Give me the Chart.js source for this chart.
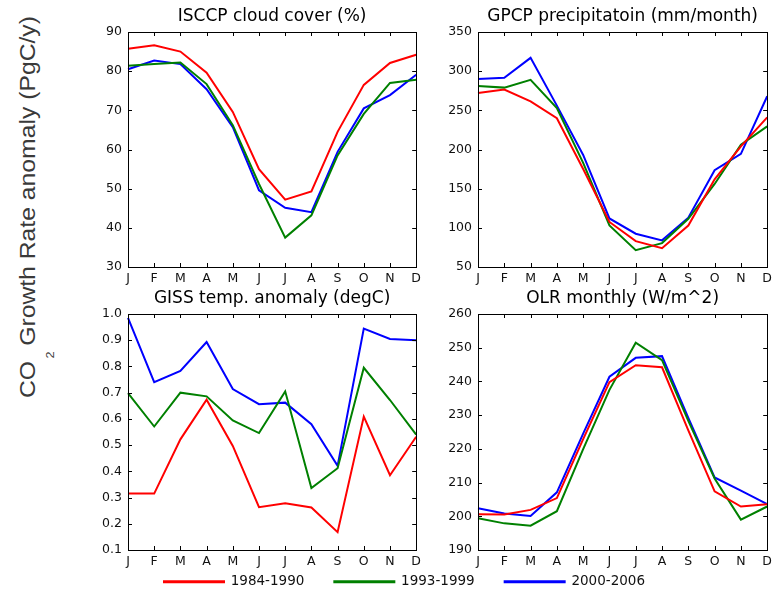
<!DOCTYPE html>
<html lang="en">
<head>
    <meta charset="UTF-8">
    <title>CO2 growth rate seasonal panels</title>
    <style>
        body {
            margin: 0;
            width: 776px;
            height: 589px;
            background-color: #ffffff;
            position: relative;
            overflow: hidden;
        }
        canvas {
            position: absolute;
        }
        .ylabel {
            position: absolute;
            left: 16px;
            top: 398px;
            transform-origin: 0 0;
            transform: rotate(-90deg) scale(1.15, 1);
            white-space: nowrap;
            font-family: "Liberation Sans", Arial, sans-serif;
            font-size: 21.5px;
            line-height: 24px;
            color: #3a3a3a;
        }
        .ylabel .sub {
            font-size: 11px;
            position: relative;
            top: 19px;
            margin: 0 5px 0 2px;
        }
    </style>
</head>
<body>
    <div class="ylabel">CO<span class="sub">2</span>Growth Rate anomaly (PgC/y)</div>

    <canvas id="cloud" width="347" height="297" style="left:78px; top:0px;"></canvas>
    <canvas id="precip" width="348" height="297" style="left:428px; top:0px;"></canvas>
    <canvas id="giss" width="347" height="298" style="left:78px; top:282px;"></canvas>
    <canvas id="olr" width="348" height="298" style="left:428px; top:282px;"></canvas>
    <canvas id="legend" width="743" height="110" style="left:33px; top:545px;"></canvas>

    <script src="https://cdn.jsdelivr.net/npm/chart.js"></script>
    <script>
        const months = ['J', 'F', 'M', 'A', 'M', 'J', 'J', 'A', 'S', 'O', 'N', 'D'];
        const periods = ['1984-1990', '1993-1999', '2000-2006'];
        const colors = ['#ff0000', '#008000', '#0000ff'];

        // ISCCP cloud cover (%)
        const cloud84 = [85.7, 86.6, 85.0, 79.6, 69.6, 55.0, 47.2, 49.3, 64.5, 76.5, 82.1, 84.2];
        const cloud93 = [81.4, 81.8, 82.2, 76.7, 66.2, 51.2, 37.5, 43.2, 58.5, 69.1, 77.0, 77.8];
        const cloud00 = [80.5, 82.7, 81.8, 75.4, 65.7, 49.6, 45.1, 44.0, 59.4, 70.5, 73.9, 79.1];

        // GPCP precipitation (mm/month)
        const precip84 = [272, 276.5, 261.5, 240, 175, 107.5, 83, 74, 103, 162, 204, 241];
        const precip93 = [281, 279, 289, 253, 183, 103, 71.5, 80.5, 111.5, 156, 206, 229.5];
        const precip00 = [290, 291.5, 317, 256, 193, 112, 92.5, 84, 113, 173.5, 194.5, 268];

        // GISS temperature anomaly (degC)
        const giss84 = [0.315, 0.315, 0.522, 0.673, 0.497, 0.263, 0.278, 0.262, 0.168, 0.609, 0.385, 0.532];
        const giss93 = [0.698, 0.571, 0.700, 0.686, 0.594, 0.546, 0.705, 0.336, 0.412, 0.795, 0.672, 0.540];
        const giss00 = [0.985, 0.740, 0.783, 0.893, 0.714, 0.656, 0.662, 0.580, 0.421, 0.944, 0.905, 0.900];

        // OLR monthly (W/m^2)
        const olr84 = [200.6, 200.5, 201.9, 205.4, 222.9, 239.8, 244.8, 244.2, 225.5, 207.4, 202.9, 203.6];
        const olr93 = [199.4, 197.9, 197.2, 201.5, 219.9, 237.5, 251.5, 246.3, 228.3, 211.2, 199.0, 202.9];
        const olr00 = [202.4, 200.8, 200.1, 207.1, 224.5, 241.4, 247.0, 247.5, 229.2, 211.5, 207.6, 203.6];

        const fontFamily = '"DejaVu Sans", sans-serif';

        // matplotlib style frame with ticks pointing inwards on all four sides
        const frameTicks = {
            id: 'frameTicks',
            afterDraw(chart) {
                const ctx = chart.ctx;
                const area = chart.chartArea;
                const x = chart.scales.x;
                const y = chart.scales.y;
                const len = 4;
                ctx.save();
                ctx.strokeStyle = '#000';
                ctx.lineWidth = 1;
                ctx.beginPath();
                x.ticks.forEach((t, i) => {
                    const px = Math.round(x.getPixelForTick(i)) + 0.5;
                    ctx.moveTo(px, area.bottom);
                    ctx.lineTo(px, area.bottom - len);
                    ctx.moveTo(px, area.top);
                    ctx.lineTo(px, area.top + len);
                });
                y.ticks.forEach((t, i) => {
                    const py = Math.round(y.getPixelForTick(i)) + 0.5;
                    ctx.moveTo(area.left, py);
                    ctx.lineTo(area.left + len, py);
                    ctx.moveTo(area.right, py);
                    ctx.lineTo(area.right - len, py);
                });
                ctx.stroke();
                ctx.strokeRect(Math.round(area.left) + 0.5, Math.round(area.top) + 0.5,
                    Math.round(area.right - area.left), Math.round(area.bottom - area.top));
                ctx.restore();
            }
        };

        function makePanel(id, title, series, yMin, yMax, yStep, decimals) {
            new Chart(document.getElementById(id), {
                type: 'line',
                data: {
                    labels: months,
                    datasets: series.map((values, i) => ({
                        label: periods[i],
                        data: values,
                        borderColor: colors[i],
                        borderWidth: 2,
                        pointRadius: 0,
                        tension: 0,
                        fill: false
                    }))
                },
                options: {
                    responsive: false,
                    animation: false,
                    devicePixelRatio: 1,
                    layout: { padding: { left: 0, right: 6, top: 0, bottom: 10 } },
                    plugins: {
                        legend: { display: false },
                        tooltip: { enabled: false },
                        title: {
                            display: true,
                            fullSize: false,
                            text: title,
                            color: '#000',
                            font: { family: fontFamily, size: 17, weight: 'normal' },
                            padding: { top: 6, bottom: 5.6 }
                        }
                    },
                    scales: {
                        x: {
                            offset: false,
                            grid: { display: false, drawTicks: false },
                            border: { display: false },
                            ticks: {
                                color: '#111',
                                font: { family: fontFamily, size: 12.5 },
                                padding: 4,
                                autoSkip: false,
                                maxRotation: 0
                            },
                            afterFit(scale) { scale.height = 20; }
                        },
                        y: {
                            min: yMin,
                            max: yMax,
                            grid: { display: false, drawTicks: false },
                            border: { display: false },
                            ticks: {
                                stepSize: yStep,
                                color: '#111',
                                font: { family: fontFamily, size: 12.5 },
                                padding: 6,
                                callback: v => v.toFixed(decimals)
                            },
                            afterFit(scale) { scale.width = 50; }
                        }
                    }
                },
                plugins: [frameTicks]
            });
        }

        makePanel('cloud', 'ISCCP cloud cover (%)', [cloud84, cloud93, cloud00], 30, 90, 10, 0);
        makePanel('precip', 'GPCP precipitatoin (mm/month)', [precip84, precip93, precip00], 50, 350, 50, 0);
        makePanel('giss', 'GISS temp. anomaly (degC)', [giss84, giss93, giss00], 0.1, 1.0, 0.1, 1);
        makePanel('olr', 'OLR monthly (W/m^2)', [olr84, olr93, olr00], 190, 260, 10, 0);

        // shared legend along the bottom
        new Chart(document.getElementById('legend'), {
            type: 'line',
            data: {
                labels: [],
                datasets: periods.map((p, i) => ({
                    label: p,
                    data: [],
                    borderColor: colors[i],
                    backgroundColor: colors[i],
                    borderWidth: 2
                }))
            },
            options: {
                responsive: false,
                animation: false,
                devicePixelRatio: 1,
                scales: { x: { display: false }, y: { display: false } },
                plugins: {
                    tooltip: { enabled: false },
                    legend: {
                        display: true,
                        position: 'top',
                        labels: {
                            boxWidth: 60,
                            boxHeight: 1,
                            padding: 30,
                            color: '#111',
                            font: { family: fontFamily, size: 13.5 }
                        }
                    }
                }
            }
        });
    </script>
</body>
</html>
